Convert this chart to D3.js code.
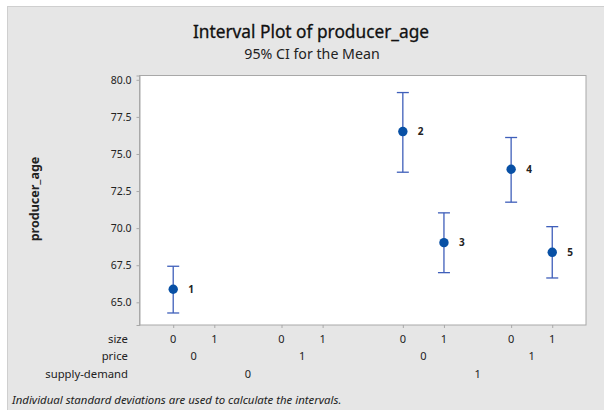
<!DOCTYPE html>
<html>
<head>
<meta charset="utf-8">
<script src="https://cdn.jsdelivr.net/npm/d3@7"></script>
<style>
  body { margin: 0; background: #fff; }
  text { font-family: "Noto Sans", "DejaVu Sans", sans-serif; fill: #222; }
</style>
</head>
<body>
<script>
// Factor levels for each of the 8 cells (size within price within supply-demand)
let sizeLevels = ["0", "1", "0", "1", "0", "1", "0", "1"];
let priceLevels = ["0", "1", "0", "1"];
let supplyLevels = ["0", "1"];

// Cells that actually have data, and their labels
let cellIndex = [0, 4, 5, 6, 7];
let pointLabels = ["1", "2", "3", "4", "5"];
let means = [65.88, 76.51, 69.02, 73.97, 68.37];
let ciLow = [64.28, 73.77, 67.00, 71.75, 66.64];
let ciHigh = [67.43, 79.14, 71.03, 76.11, 70.10];

let yTicks = [65.0, 67.5, 70.0, 72.5, 75.0, 77.5, 80.0];

const W = 604, H = 410;
const plot = { left: 139.5, top: 75.5, right: 586, bottom: 325 };

let svg = d3.select("body").append("svg")
  .attr("width", W).attr("height", H);

// gray graph region
svg.append("rect")
  .attr("x", 7.5).attr("y", 6.5)
  .attr("width", W).attr("height", H)
  .attr("fill", "#e6e6e6")
  .attr("stroke", "#cfcfcf");

// slot position with extra gaps between price and supply-demand groups
function slot(i) {
  return i + 0.634 * Math.floor(i / 2) + 0.317 * Math.floor(i / 4);
}

let x = d3.scaleLinear()
  .domain([-0.82, 10.04])
  .range([plot.left, plot.right]);

let y = d3.scaleLinear()
  .domain([63.47, 80.29])
  .range([plot.bottom, plot.top]);

// plot area
svg.append("rect")
  .attr("x", plot.left).attr("y", plot.top)
  .attr("width", plot.right - plot.left)
  .attr("height", plot.bottom - plot.top)
  .attr("fill", "#fff")
  .attr("stroke", "#a8a8a8");

// y axis
let yAxis = svg.append("g")
  .attr("transform", `translate(${plot.left},0)`)
  .call(d3.axisLeft(y).tickValues(yTicks).tickFormat(d3.format(".1f")).tickSize(3).tickPadding(5));
yAxis.select(".domain").attr("stroke", "#a8a8a8");
yAxis.selectAll(".tick line").attr("stroke", "#a8a8a8");
yAxis.selectAll("text")
  .style("font-size", "10.5px")
  .style("font-family", "'Noto Sans', sans-serif")
  .attr("fill", "#333");

// x ticks (size level positions)
let xAxis = svg.append("g")
  .attr("transform", `translate(0,${plot.bottom})`)
  .call(d3.axisBottom(x).tickValues(d3.range(8).map(slot)).tickFormat("").tickSize(3));
xAxis.select(".domain").remove();
xAxis.selectAll(".tick line").attr("stroke", "#a8a8a8");

// category label rows
let rows = [
  { name: "size", y: 343, levels: sizeLevels, span: 1 },
  { name: "price", y: 360, levels: priceLevels, span: 2 },
  { name: "supply-demand", y: 378, levels: supplyLevels, span: 4 }
];

rows.forEach(function(r) {
  svg.append("text")
    .attr("x", 128).attr("y", r.y)
    .attr("text-anchor", "end")
    .style("font-size", "11.3px")
    .text(r.name);
  svg.selectAll(null)
    .data(r.levels)
    .enter().append("text")
    .attr("x", (d, i) => (x(slot(i * r.span)) + x(slot(i * r.span + r.span - 1))) / 2)
    .attr("y", r.y)
    .attr("text-anchor", "middle")
    .style("font-size", "11px")
    .text(d => d);
});

// intervals
let pts = cellIndex.map((c, i) => ({
  cx: x(slot(c)), mean: means[i], lo: ciLow[i], hi: ciHigh[i], label: pointLabels[i]
}));

let g = svg.append("g");
let barColor = "#3f5fba";
g.selectAll(".stem").data(pts).enter().append("line")
  .attr("x1", d => d.cx).attr("x2", d => d.cx)
  .attr("y1", d => y(d.lo)).attr("y2", d => y(d.hi))
  .attr("stroke", barColor).attr("stroke-width", 1.3);
g.selectAll(".capHi").data(pts).enter().append("line")
  .attr("x1", d => d.cx - 6).attr("x2", d => d.cx + 6)
  .attr("y1", d => y(d.hi)).attr("y2", d => y(d.hi))
  .attr("stroke", barColor).attr("stroke-width", 1.3);
g.selectAll(".capLo").data(pts).enter().append("line")
  .attr("x1", d => d.cx - 6).attr("x2", d => d.cx + 6)
  .attr("y1", d => y(d.lo)).attr("y2", d => y(d.lo))
  .attr("stroke", barColor).attr("stroke-width", 1.3);
g.selectAll("circle").data(pts).enter().append("circle")
  .attr("cx", d => d.cx).attr("cy", d => y(d.mean))
  .attr("r", 4.7)
  .attr("fill", "#0850a5");
g.selectAll(".lbl").data(pts).enter().append("text")
  .attr("x", d => d.cx + 15).attr("y", d => y(d.mean) + 3.5)
  .style("font-size", "10px")
  .style("font-weight", "bold")
  .text(d => d.label);

// titles
svg.append("text")
  .attr("x", 311).attr("y", 38)
  .attr("text-anchor", "middle")
  .style("font-size", "17.3px")
  .style("fill", "#111")
  .style("stroke", "#111")
  .style("stroke-width", "0.3px")
  .text("Interval Plot of producer_age");
svg.append("text")
  .attr("x", 312).attr("y", 59)
  .attr("text-anchor", "middle")
  .style("font-size", "14.2px")
  .text("95% CI for the Mean");

// y axis title
svg.append("text")
  .attr("transform", "translate(39,199) rotate(-90)")
  .attr("text-anchor", "middle")
  .style("font-size", "12.5px")
  .style("font-weight", "bold")
  .text("producer_age");

// footnote
svg.append("text")
  .attr("x", 12).attr("y", 404)
  .style("font-size", "11.4px")
  .style("font-style", "italic")
  .text("Individual standard deviations are used to calculate the intervals.");
</script>
</body>
</html>
